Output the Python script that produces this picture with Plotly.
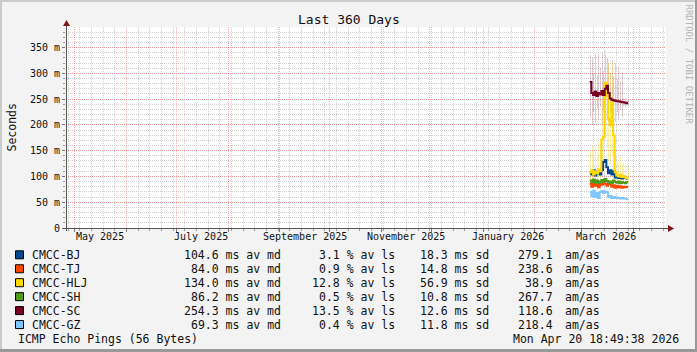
import plotly.graph_objects as go

# ---------------- data ----------------
dates = ["2026-03-06", "2026-03-07", "2026-03-08", "2026-03-09", "2026-03-10", "2026-03-11",
         "2026-03-12", "2026-03-13", "2026-03-14", "2026-03-15", "2026-03-16", "2026-03-17",
         "2026-03-18", "2026-03-19", "2026-03-20", "2026-03-21", "2026-03-22", "2026-03-23",
         "2026-03-24", "2026-03-25", "2026-03-26", "2026-03-27", "2026-03-28", "2026-03-29"]

hosts = ["CMCC-BJ", "CMCC-TJ", "CMCC-HLJ", "CMCC-SH", "CMCC-SC", "CMCC-GZ"]
colors = ["#004a8c", "#ff4500", "#ffd800", "#4f9a1a", "#780022", "#80c6ff"]

bj = [108, 104, 112, 102, 110, 106, 104, 112, 128, 132, 118, 106, 112, 104, 110, 98, 100, 97, 99, 96, 98, 97, 96, 96]
tj = [86, 80, 88, 82, 85, 79, 87, 84, 90, 86, 82, 88, 85, 80, 83, 78, 82, 79, 81, 78, 80, 79, 80, 80]
hlj = [108, 112, 104, 110, 106, 114, 110, 172, 176, 282, 255, 212, 200, 243, 180, 108, 102, 100, 104, 99, 101, 98, 97, 97]
sh = [92, 89, 94, 88, 92, 87, 90, 93, 89, 95, 91, 88, 90, 87, 92, 89, 88, 90, 87, 89, 88, 87, 89, 89]
sc = [283, 262, 258, 265, 256, 262, 259, 266, 258, 270, 276, 262, 251, 249, 248, 247, 246, 246, 245, 244, 244, 243, 242, 242]
gz = [70, 62, 72, 60, 68, 58, 70, 72, 68, 71, 70, 60, 62, 58, 60, 58, 59, 58, 57, 58, 57, 57, 56, 56]
medians = [bj, tj, hlj, sh, sc, gz]

# smoke (spread)
sc_lo = [215, 200, 225, 205, 230, 210, 235, 200, 225, 195, 230, 205, 225, 200, 220, 205, 225, 210, 228, 215, 236, 236, 238, 238]
sc_hi = [335, 330, 300, 338, 295, 335, 310, 340, 305, 335, 330, 320, 300, 325, 295, 320, 290, 315, 285, 300, 252, 250, 248, 248]
hlj_lo = [92, 95, 90, 96, 92, 98, 95, 120, 130, 170, 150, 130, 125, 140, 110, 92, 90, 88, 90, 88, 90, 88, 88, 88]
hlj_hi = [150, 160, 140, 155, 145, 165, 150, 250, 290, 345, 330, 320, 300, 320, 280, 140, 130, 128, 135, 125, 128, 122, 120, 120]

med_avg = ["104.6", "84.0", "134.0", "86.2", "254.3", "69.3"]
loss_avg = ["3.1", "0.9", "12.8", "0.5", "13.5", "0.4"]
sd_avg = ["18.3", "14.8", "56.9", "10.8", "12.6", "11.8"]
am_as = ["279.1", "238.6", "38.9", "267.7", "118.6", "218.4"]

y_ticks = [0, 50, 100, 150, 200, 250, 300, 350]
y_labels = ["0", "50 m", "100 m", "150 m", "200 m", "250 m", "300 m", "350 m"]
month_labels = ["May 2025", "July 2025", "September 2025", "November 2025", "January 2026", "March 2026"]
month_label_pos = ["2025-05-16", "2025-07-16", "2025-09-16", "2025-11-16", "2026-01-16", "2026-03-16"]

# ---------------- geometry helpers (pixels -> paper) ----------------
W, H = 697, 352
L, R, T, B = 66, 31, 27, 124
PW, PH = W - L - R, H - T - B


def px(x):
    return (x - L) / PW


def py(y):
    return (H - B - y) / PH


MONO = "DejaVu Sans Mono"
DAY = 86400000

fig = go.Figure()

# smoke
for lo, hi, col in [(sc_lo, sc_hi, "rgba(120,0,34,0.20)"), (hlj_lo, hlj_hi, "rgba(255,216,0,0.30)")]:
    fig.add_trace(go.Bar(x=dates, y=[h - l for h, l in zip(hi, lo)], base=lo,
                         width=0.55 * DAY, offset=0.2 * DAY,
                         marker=dict(color=col, line=dict(width=0)),
                         showlegend=False, hoverinfo="skip"))

# medians
for name, vals, col in zip(hosts, medians, colors):
    fig.add_trace(go.Scatter(x=dates, y=vals, mode="lines", name=name,
                             line=dict(color=col, width=2, shape="hv"),
                             showlegend=False))

GRID_MINOR = "#d0d0d0"
GRID_MAJOR = "rgba(255,70,70,0.40)"

fig.update_layout(
    width=W, height=H, autosize=False,
    margin=dict(l=L, r=R, t=T, b=B, pad=0),
    paper_bgcolor="#f3f3f3", plot_bgcolor="#ffffff",
    barmode="overlay", bargap=0,
    font=dict(family=MONO, size=10, color="#111111"),
    xaxis=dict(type="date", range=["2025-04-25 18:49:38", "2026-04-20 18:49:38"],
               tick0="2025-05-01", dtick="M1", showticklabels=False,
               showgrid=True, gridcolor=GRID_MAJOR, griddash="1px,1px", gridwidth=1,
               ticks="outside", ticklen=3, tickcolor="#777777",
               minor=dict(tick0="2025-05-04", dtick=7 * DAY, showgrid=True,
                          gridcolor=GRID_MINOR, griddash="1px,1px",
                          ticks="outside", ticklen=2, tickcolor="#999999"),
               showline=False, zeroline=False, fixedrange=True),
    yaxis=dict(range=[0, PH / 0.5155], tickmode="array", tickvals=y_ticks, ticktext=y_labels,
               showgrid=True, gridcolor=GRID_MAJOR, griddash="1px,1px", gridwidth=1,
               ticks="outside", ticklen=3, tickcolor="#777777",
               tickfont=dict(family=MONO, size=10, color="#111111"),
               minor=dict(tick0=0, dtick=10, showgrid=True, gridcolor=GRID_MINOR,
                          griddash="1px,1px", ticks="outside", ticklen=2, tickcolor="#999999"),
               showline=False, zeroline=False, fixedrange=True),
)

shapes = []
# frame
shapes.append(dict(type="rect", xref="paper", yref="paper", x0=px(0), x1=px(W), y0=py(0), y1=py(2),
                   fillcolor="#cbcbcb", line=dict(width=0), layer="below"))
shapes.append(dict(type="rect", xref="paper", yref="paper", x0=px(0), x1=px(2), y0=py(0), y1=py(H),
                   fillcolor="#cbcbcb", line=dict(width=0), layer="below"))
shapes.append(dict(type="rect", xref="paper", yref="paper", x0=px(0), x1=px(W), y0=py(H - 3), y1=py(H),
                   fillcolor="#999999", line=dict(width=0), layer="below"))
shapes.append(dict(type="rect", xref="paper", yref="paper", x0=px(W - 2), x1=px(W), y0=py(0), y1=py(H),
                   fillcolor="#999999", line=dict(width=0), layer="below"))
# axes
AX = "#555555"
ARROW = "#7f1414"
shapes.append(dict(type="line", xref="paper", yref="paper", x0=px(63), x1=px(669), y0=py(228.5), y1=py(228.5),
                   line=dict(color=AX, width=1)))
shapes.append(dict(type="line", xref="paper", yref="paper", x0=px(66.5), x1=px(66.5), y0=py(231), y1=py(24),
                   line=dict(color=AX, width=1)))
shapes.append(dict(type="path", xref="paper", yref="paper",
                   path=f"M {px(668)},{py(225)} L {px(668)},{py(232)} L {px(674)},{py(228.5)} Z",
                   fillcolor=ARROW, line=dict(color=ARROW, width=0)))
shapes.append(dict(type="path", xref="paper", yref="paper",
                   path=f"M {px(63)},{py(26)} L {px(70)},{py(26)} L {px(66.5)},{py(20)} Z",
                   fillcolor=ARROW, line=dict(color=ARROW, width=0)))

annotations = []
# title
annotations.append(dict(text="Last 360 Days", xref="paper", yref="paper", x=px(348.5), y=py(19.5),
                        xanchor="center", yanchor="middle", showarrow=False,
                        font=dict(family=MONO, size=13, color="#111111")))
# y axis title
annotations.append(dict(text="Seconds", xref="paper", yref="paper", x=px(11.5), y=py(128),
                        xanchor="center", yanchor="middle", showarrow=False, textangle=-90,
                        font=dict(family=MONO, size=11.5, color="#111111")))
# watermark
annotations.append(dict(text="RRDTOOL / TOBI OETIKER", xref="paper", yref="paper", x=px(688.5), y=py(64),
                        xanchor="center", yanchor="middle", showarrow=False, textangle=90,
                        font=dict(family=MONO, size=9, color="#b4b4b4")))
# x labels
for lab, pos in zip(month_labels, month_label_pos):
    annotations.append(dict(text=lab, xref="x", yref="paper", x=pos, y=py(237),
                            xanchor="center", yanchor="middle", showarrow=False,
                            font=dict(family=MONO, size=10, color="#111111")))

# legend
LF = dict(family=MONO, size=11.5, color="#111111")
for i, (name, col) in enumerate(zip(hosts, colors)):
    yc = 254.8 + 13.95 * i
    shapes.append(dict(type="rect", xref="paper", yref="paper", x0=px(15.5), x1=px(23.5),
                       y0=py(yc - 4), y1=py(yc + 4), fillcolor=col, line=dict(color="#000000", width=1)))
    annotations.append(dict(text=name, xref="paper", yref="paper", x=px(30), y=py(yc),
                            xanchor="left", yanchor="middle", showarrow=False, font=LF))
    annotations.append(dict(text=f"{med_avg[i]} ms av md", xref="paper", yref="paper", x=px(283), y=py(yc),
                            xanchor="right", yanchor="middle", showarrow=False, font=LF))
    annotations.append(dict(text=f"{loss_avg[i]} % av ls", xref="paper", yref="paper", x=px(396.5), y=py(yc),
                            xanchor="right", yanchor="middle", showarrow=False, font=LF))
    annotations.append(dict(text=f"{sd_avg[i]} ms sd", xref="paper", yref="paper", x=px(490.5), y=py(yc),
                            xanchor="right", yanchor="middle", showarrow=False, font=LF))
    annotations.append(dict(text=am_as[i], xref="paper", yref="paper", x=px(554.5), y=py(yc),
                            xanchor="right", yanchor="middle", showarrow=False, font=LF))
    annotations.append(dict(text="am/as", xref="paper", yref="paper", x=px(562.5), y=py(yc),
                            xanchor="left", yanchor="middle", showarrow=False, font=LF))

annotations.append(dict(text="ICMP Echo Pings (56 Bytes)", xref="paper", yref="paper", x=px(15.5), y=py(338.7),
                        xanchor="left", yanchor="middle", showarrow=False, font=LF))
annotations.append(dict(text="Mon Apr 20 18:49:38 2026", xref="paper", yref="paper", x=px(680.5), y=py(338.7),
                        xanchor="right", yanchor="middle", showarrow=False, font=LF))

fig.update_layout(shapes=shapes, annotations=annotations)

fig.write_html("out.html")
